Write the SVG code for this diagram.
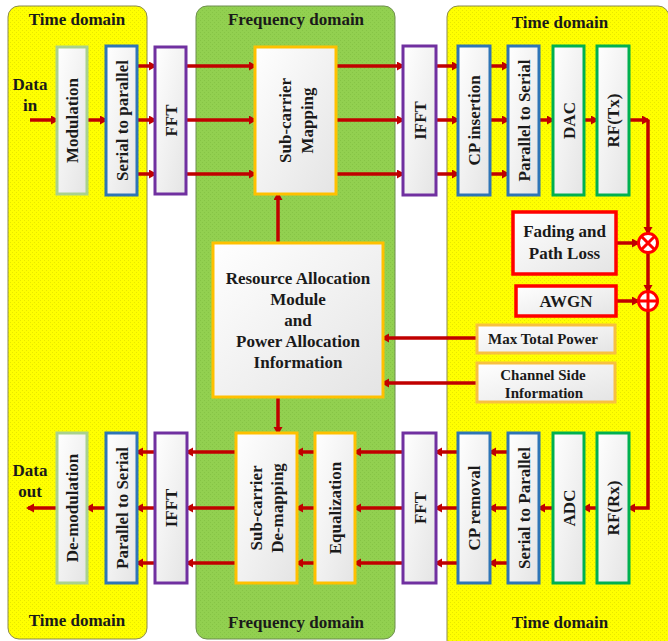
<svg xmlns="http://www.w3.org/2000/svg" width="668" height="641" viewBox="0 0 668 641">
<style>
text{font-family:"Liberation Serif","Times New Roman",serif;font-weight:bold;fill:#1a1a1a;font-size:17px}
.title{font-size:17px}
.small{font-size:15px}
.box{fill:url(#boxg);stroke-width:3}
.lg{stroke:#a9d18e}
.bl{stroke:#2e75b6}
.pu{stroke:#7030a0}
.go{stroke:#ffc000}
.gr{stroke:#00b050}
.rd{stroke:#ff0000;stroke-width:3.5}
.or{stroke:#f8c040;stroke-width:3}
.c{fill:none;stroke:#c00000;stroke-width:3.5}
.a{marker-end:url(#ah)}
</style>
<defs>
<linearGradient id="boxg" x1="0" y1="0" x2="1" y2="1">
<stop offset="0" stop-color="#ffffff"/>
<stop offset="1" stop-color="#e4e4e4"/>
</linearGradient>
<pattern id="ypat" width="4" height="4" patternUnits="userSpaceOnUse">
<rect width="4" height="4" fill="#ffff00"/>
<rect x="0" y="0" width="1" height="1" fill="#e8e800"/>
<rect x="2" y="2" width="1" height="1" fill="#e8e800"/>
</pattern>
<pattern id="gpat" width="4" height="4" patternUnits="userSpaceOnUse">
<rect width="4" height="4" fill="#92d050"/>
<rect x="0" y="0" width="1" height="1" fill="#86c446"/>
<rect x="2" y="2" width="1" height="1" fill="#86c446"/>
</pattern>
<marker id="ah" markerUnits="userSpaceOnUse" markerWidth="10" markerHeight="10" refX="6" refY="4.5" orient="auto">
<path d="M0,0 L8,4.5 L0,9 z" fill="#c00000"/>
</marker>
</defs>

<g id="panels">
<rect x="8" y="6" width="139" height="633" rx="11" fill="url(#ypat)" stroke="#8a8a50" stroke-width="1"/>
<rect x="196" y="6" width="199" height="633" rx="11" fill="url(#gpat)" stroke="#6f8f50" stroke-width="1"/>
<rect x="447" y="6" width="222" height="660" rx="11" fill="url(#ypat)" stroke="#8a8a50" stroke-width="1"/>
<text x="77" y="25" text-anchor="middle">Time domain</text>
<text x="296" y="25" text-anchor="middle">Frequency domain</text>
<text x="560" y="28" text-anchor="middle">Time domain</text>
<text x="77" y="626" text-anchor="middle">Time domain</text>
<text x="296" y="628" text-anchor="middle">Frequency domain</text>
<text x="560" y="628" text-anchor="middle">Time domain</text>
<text x="30" y="90" text-anchor="middle">Data</text>
<text x="30" y="111" text-anchor="middle">in</text>
<text x="30" y="476" text-anchor="middle">Data</text>
<text x="30" y="497" text-anchor="middle">out</text>
</g>

<g id="connectors">
<path class="c a" d="M30,120 H57"/>
<path class="c a" d="M87,120 H106"/>
<path class="c a" d="M137,66 H155"/>
<path class="c a" d="M137,120 H155"/>
<path class="c a" d="M137,174 H155"/>
<path class="c a" d="M186,66 H255"/>
<path class="c a" d="M186,120 H255"/>
<path class="c a" d="M186,174 H255"/>
<path class="c a" d="M336,66 H403"/>
<path class="c a" d="M336,120 H403"/>
<path class="c a" d="M336,174 H403"/>
<path class="c a" d="M436,66 H458"/>
<path class="c a" d="M436,120 H458"/>
<path class="c a" d="M436,174 H458"/>
<path class="c a" d="M490,66 H508"/>
<path class="c a" d="M490,120 H508"/>
<path class="c a" d="M490,174 H508"/>
<path class="c a" d="M539,120 H553"/>
<path class="c a" d="M584,120 H597"/>
<path class="c a" d="M629,120 H648"/>
<path class="c a" d="M648,120 V233"/>
<path class="c a" d="M648,253 V291"/>
<path class="c a" d="M648,311 V508 H629"/>
<path class="c a" d="M616,243 H638"/>
<path class="c a" d="M616,301 H638"/>
<path class="c a" d="M477,338 H383"/>
<path class="c a" d="M477,383 H383"/>
<path class="c a" d="M278,243 V194"/>
<path class="c a" d="M278,397 V433"/>
<path class="c a" d="M597,508 H584"/>
<path class="c a" d="M553,508 H539"/>
<path class="c a" d="M508,452 H490"/>
<path class="c a" d="M508,508 H490"/>
<path class="c a" d="M508,563 H490"/>
<path class="c a" d="M458,452 H436"/>
<path class="c a" d="M458,508 H436"/>
<path class="c a" d="M458,563 H436"/>
<path class="c a" d="M403,452 H355"/>
<path class="c a" d="M403,508 H355"/>
<path class="c a" d="M403,563 H355"/>
<path class="c a" d="M315,452 H297"/>
<path class="c a" d="M315,508 H297"/>
<path class="c a" d="M315,563 H297"/>
<path class="c a" d="M236,452 H187"/>
<path class="c a" d="M236,508 H187"/>
<path class="c a" d="M236,563 H187"/>
<path class="c a" d="M155,452 H137"/>
<path class="c a" d="M155,508 H137"/>
<path class="c a" d="M155,563 H137"/>
<path class="c a" d="M106,508 H87"/>
<path class="c a" d="M57,508 H28"/>
</g>

<g id="modulation"><rect class="box lg" x="57" y="47" width="30" height="147"/><text transform="translate(72,120.5) rotate(-90)" y="6" text-anchor="middle">Modulation</text></g>
<g id="s2p-tx"><rect class="box bl" x="106" y="46" width="31" height="149"/><text transform="translate(121.5,120.5) rotate(-90)" y="6" text-anchor="middle">Serial to parallel</text></g>
<g id="fft-tx"><rect class="box pu" x="155" y="47" width="31" height="147"/><text transform="translate(170.5,120.5) rotate(-90)" y="6" text-anchor="middle">FFT</text></g>
<g id="sc-mapping"><rect class="box go" x="255" y="47" width="81" height="147"/><text transform="translate(295.5,120.5) rotate(-90)" y="-5" text-anchor="middle">Sub-carrier</text><text transform="translate(295.5,120.5) rotate(-90)" y="17" text-anchor="middle">Mapping</text></g>
<g id="ifft-tx"><rect class="box pu" x="403" y="46" width="33" height="149"/><text transform="translate(419.5,120.5) rotate(-90)" y="6" text-anchor="middle">IFFT</text></g>
<g id="cp-insertion"><rect class="box bl" x="458" y="46" width="32" height="149"/><text transform="translate(474,120.5) rotate(-90)" y="6" text-anchor="middle">CP insertion</text></g>
<g id="p2s-tx"><rect class="box bl" x="508" y="46" width="31" height="149"/><text transform="translate(523.5,120.5) rotate(-90)" y="6" text-anchor="middle">Parallel to Serial</text></g>
<g id="dac"><rect class="box gr" x="553" y="46" width="31" height="149"/><text transform="translate(568.5,120.5) rotate(-90)" y="6" text-anchor="middle">DAC</text></g>
<g id="rf-tx"><rect class="box gr" x="597" y="46" width="32" height="149"/><text transform="translate(613,120.5) rotate(-90)" y="6" text-anchor="middle">RF(Tx)</text></g>

<g id="fading"><rect class="box rd" x="513" y="212" width="103" height="62"/><text x="564.5" y="237" text-anchor="middle">Fading and</text><text x="564.5" y="259" text-anchor="middle">Path Loss</text></g>
<g id="awgn"><rect class="box rd" x="516" y="286" width="100" height="30"/><text x="566" y="307" text-anchor="middle">AWGN</text></g>
<g id="max-power"><rect class="box or" x="477" y="325" width="138" height="28"/><text class="small" x="543" y="344" text-anchor="middle">Max Total Power</text></g>
<g id="csi"><rect class="box or" x="477" y="363" width="138" height="39"/><text class="small" x="543" y="380" text-anchor="middle">Channel Side</text><text class="small" x="544" y="398" text-anchor="middle">Information</text></g>

<g id="multiplier"><circle cx="648" cy="243" r="9.5" fill="#ffffff" stroke="#ff0000" stroke-width="3"/><path d="M641.5,236.5 L654.5,249.5 M654.5,236.5 L641.5,249.5" stroke="#ff0000" stroke-width="3"/></g>
<g id="adder"><circle cx="648" cy="301" r="9.5" fill="#ffffff" stroke="#ff0000" stroke-width="3"/><path d="M648,292 V310 M639,301 H657" stroke="#ff0000" stroke-width="3"/></g>

<g id="resource-allocation"><rect class="box go" x="213" y="243" width="170" height="154"/>
<text x="298" y="284" text-anchor="middle">Resource Allocation</text>
<text x="298" y="305" text-anchor="middle">Module</text>
<text x="298" y="326" text-anchor="middle">and</text>
<text x="298" y="347" text-anchor="middle">Power Allocation</text>
<text x="298" y="368" text-anchor="middle">Information</text></g>

<g id="demodulation"><rect class="box lg" x="57" y="433" width="30" height="150"/><text transform="translate(72,508) rotate(-90)" y="6" text-anchor="middle">De-modulation</text></g>
<g id="p2s-rx"><rect class="box bl" x="106" y="433" width="31" height="150"/><text transform="translate(121.5,508) rotate(-90)" y="6" text-anchor="middle">Parallel to Serial</text></g>
<g id="ifft-rx"><rect class="box pu" x="155" y="433" width="32" height="150"/><text transform="translate(171,508) rotate(-90)" y="6" text-anchor="middle">IFFT</text></g>
<g id="sc-demapping"><rect class="box go" x="236" y="433" width="61" height="150"/><text transform="translate(266.5,508) rotate(-90)" y="-4.5" text-anchor="middle">Sub-carrier</text><text transform="translate(266.5,508) rotate(-90)" y="16.5" text-anchor="middle">De-mapping</text></g>
<g id="equalization"><rect class="box go" x="315" y="433" width="40" height="150"/><text transform="translate(335,508) rotate(-90)" y="6" text-anchor="middle">Equalization</text></g>
<g id="fft-rx"><rect class="box pu" x="403" y="433" width="33" height="150"/><text transform="translate(419.5,508) rotate(-90)" y="6" text-anchor="middle">FFT</text></g>
<g id="cp-removal"><rect class="box bl" x="458" y="433" width="32" height="150"/><text transform="translate(474,508) rotate(-90)" y="6" text-anchor="middle">CP removal</text></g>
<g id="s2p-rx"><rect class="box bl" x="508" y="433" width="31" height="150"/><text transform="translate(523.5,508) rotate(-90)" y="6" text-anchor="middle">Serial to Parallel</text></g>
<g id="adc"><rect class="box gr" x="553" y="433" width="31" height="150"/><text transform="translate(568.5,508) rotate(-90)" y="6" text-anchor="middle">ADC</text></g>
<g id="rf-rx"><rect class="box gr" x="597" y="433" width="32" height="150"/><text transform="translate(613,508) rotate(-90)" y="6" text-anchor="middle">RF(Rx)</text></g>
</svg>
